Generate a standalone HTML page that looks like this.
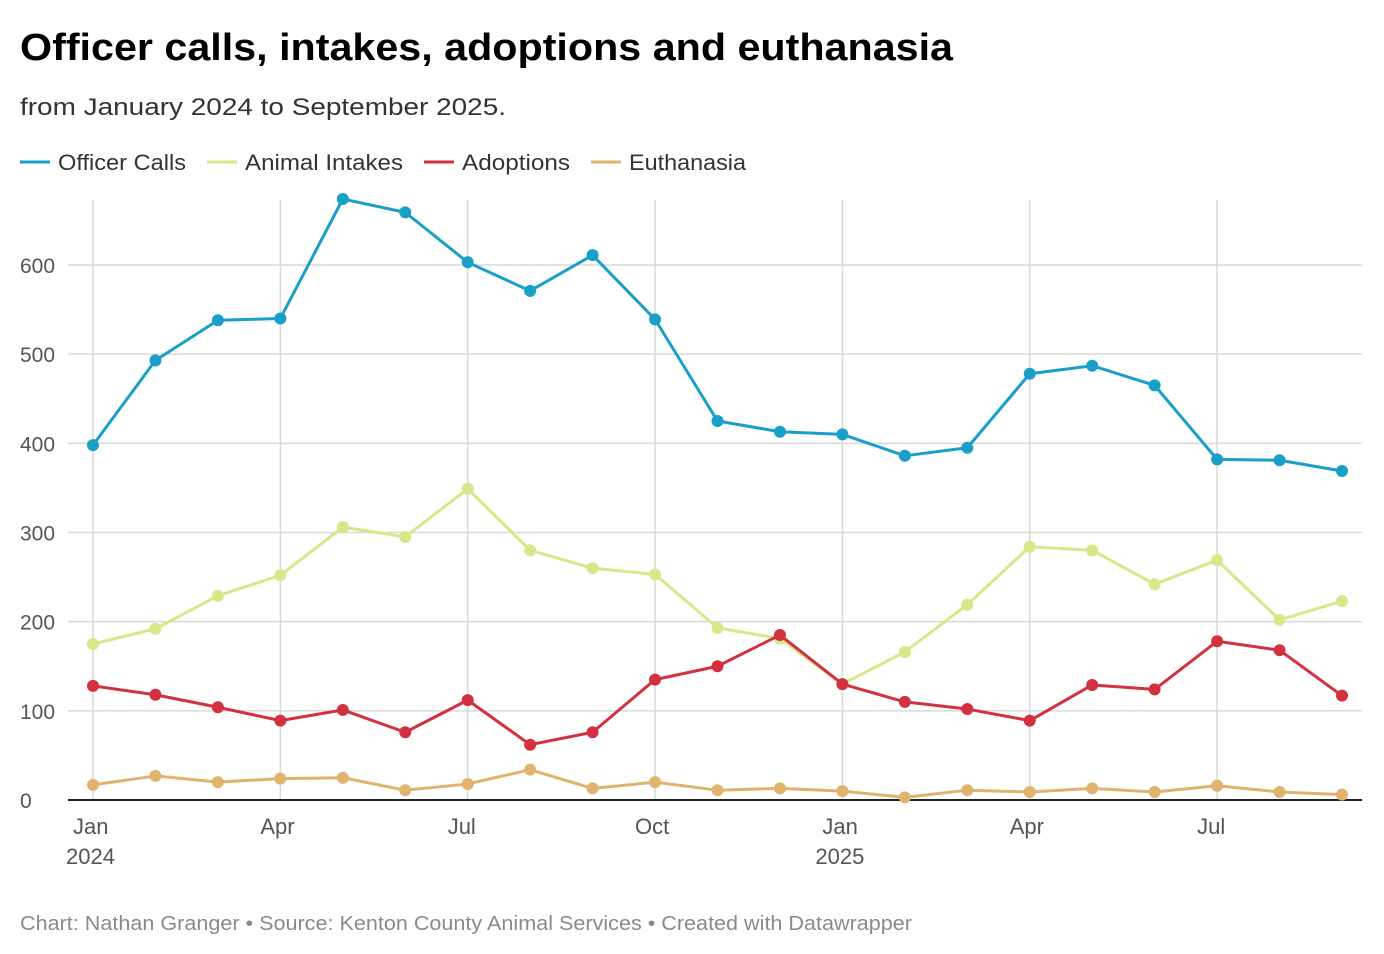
<!DOCTYPE html>
<html><head><meta charset="utf-8">
<style>
body{margin:0;background:#fff;font-family:"Liberation Sans",sans-serif;}
svg{display:block}
</style></head>
<body>
<svg id="chart" width="1384" height="954">
<text x="20" y="60" font-size="38" font-weight="bold" fill="#000" textLength="933" lengthAdjust="spacingAndGlyphs">Officer calls, intakes, adoptions and euthanasia</text>
<text x="20" y="115" font-size="24" fill="#333" textLength="486" lengthAdjust="spacingAndGlyphs">from January 2024 to September 2025.</text>
<g id="legend"></g>
<g id="grid"></g>
<g id="series"></g>
<text x="20" y="930" font-size="20" fill="#8a8a8a" textLength="892" lengthAdjust="spacingAndGlyphs">Chart: Nathan Granger • Source: Kenton County Animal Services • Created with Datawrapper</text>
</svg>
<script>
const officerCalls=[398,493,538,540,674,659,603,571,611,539,425,413,410,386,395,478,487,465,382,381,369];
const animalIntakes=[175,192,229,252,306,295,349,280,260,253,193,181,130,166,219,284,280,242,269,202,223];
const adoptions=[128,118,104,89,101,76,112,62,76,135,150,185,130,110,102,89,129,124,178,168,117];
const euthanasia=[17,27,20,24,25,11,18,34,13,20,11,13,10,3,11,9,13,9,16,9,6];
const yTicks=[0,100,200,300,400,500,600];
const xTickIdx=[0,3,6,9,12,15,18];
const xTickLabels=["Jan","Apr","Jul","Oct","Jan","Apr","Jul"];
const xTickYears=["2024","","","","2025","",""];
const seriesNames=["Officer Calls","Animal Intakes","Adoptions","Euthanasia"];
const seriesColors=["#1a9fc9","#d9e68a","#d2313f","#e0b36e"];
const seriesData=[officerCalls,animalIntakes,adoptions,euthanasia];

const NS="http://www.w3.org/2000/svg";
function xs(i){return 93+i*(1342-93)/20;}
function ys(v){return 800-v*0.8917;}
function mk(tag,attrs,parent){const e=document.createElementNS(NS,tag);for(const k in attrs)e.setAttribute(k,attrs[k]);parent.appendChild(e);return e;}
const grid=document.getElementById('grid'),ser=document.getElementById('series'),leg=document.getElementById('legend');

yTicks.forEach(v=>{
  if(v>0){const l=mk('line',{x1:68,x2:1362,y1:ys(v),y2:ys(v),stroke:'#d9d9d9','stroke-width':1.5},grid);
  
  }
  const t=mk('text',{x:20,y:ys(v)+8,'font-size':21,fill:'#555'},grid);t.textContent=v;
  
  
});
xTickIdx.forEach((idx,k)=>{
  const l=mk('line',{x1:xs(idx),x2:xs(idx),y1:200,y2:800,stroke:'#d9d9d9','stroke-width':1.5},grid);
  
  
  const t=mk('text',{x:xs(idx)-20,y:834,'font-size':22,fill:'#555'},grid);t.textContent=xTickLabels[k];
  
  
  if(xTickYears[k]){const t2=mk('text',{x:xs(idx)-27,y:864,'font-size':22,fill:'#555'},grid);t2.textContent=xTickYears[k];
  
  }
});
const base=mk('line',{x1:68,x2:1362,y1:800,y2:800,stroke:'#222','stroke-width':2},grid);



seriesData.forEach((d,s)=>{
  const g=mk('g',{},ser);
  
  
  const p=mk('polyline',{points:d.map((v,i)=>xs(i)+','+ys(v)).join(' '),fill:'none',stroke:seriesColors[s],'stroke-width':3,'stroke-linejoin':'round'},g);
  
  
  d.forEach((v,i)=>{const c=mk('circle',{cx:xs(i),cy:ys(v),r:6,fill:seriesColors[s]},g);
    
    });
});
const legX=[20,207,424,591];
const legW=[128,158,108,117];
seriesNames.forEach((n,s)=>{
  const g=mk('g',{},leg);
  
  
  mk('line',{x1:legX[s],x2:legX[s]+30,y1:162,y2:162,stroke:seriesColors[s],'stroke-width':3},g);
  const t=mk('text',{x:legX[s]+38,y:170,'font-size':22,fill:'#333',textLength:legW[s],lengthAdjust:'spacingAndGlyphs'},g);t.textContent=n;
});
</script>
</body></html>
